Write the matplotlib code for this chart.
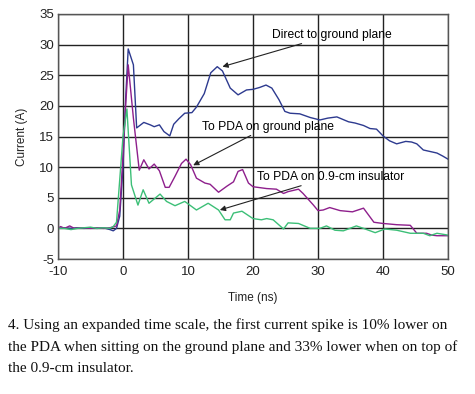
import matplotlib
matplotlib.use("Agg")
import matplotlib.pyplot as plt

# ---- data ----
direct_t = [-10, -9, -8, -7, -6, -5, -4, -3, -2, -1.5, -1, -0.5, 0, 0.4, 0.8, 1.6, 2.1, 3.2, 4.2, 4.8,
            5.6, 6.3, 7.2, 7.8, 8.6, 9.5, 10.6, 11.3, 12.5, 13.5, 14.5, 15.3, 16.5, 17.7, 19.0, 20.0,
            21.0, 22.0, 22.9, 24.0, 24.9, 25.7, 27.2, 28.8, 30.3, 31.5, 32.9, 34.7, 35.7, 37, 38, 39,
            40, 41.0, 42.1, 43.5, 44.4, 45.2, 46.2, 48.3, 49.2, 50]
direct_i = [0.0, 0.1, 0.0, 0.1, 0.0, 0.1, 0.0, 0.1, -0.2, -0.4, 0.0, 2, 10, 21, 29.3, 26.7, 16.4, 17.3, 16.9, 16.6,
            16.9, 15.8, 15.1, 17.0, 17.9, 18.8, 18.9, 19.8, 22.0, 25.4, 26.4, 25.7, 22.9, 21.8, 22.6, 22.7,
            23.0, 23.4, 22.9, 21.0, 19.1, 18.8, 18.7, 18.1, 17.7, 18.0, 18.2, 17.4, 17.2, 16.8, 16.3, 16.2,
            15.1, 14.3, 13.8, 14.2, 14.1, 13.8, 12.8, 12.3, 11.8, 11.3]

gp_t = [-10, -9.6, -9, -8.2, -7.5, -6, -5, -4, -3, -2, -1, -0.5, 0, 0.4, 0.8, 1.6, 2.5, 3.2, 4.0, 4.8,
        5.6, 6.5, 7.1, 8.0, 9.0, 9.7, 10.4, 11.3, 12.6, 13.4, 14.7, 16.0, 17.0, 17.7, 18.4, 19.3, 20,
        22.1, 23.6, 24.7, 25.4, 27, 27.7, 29.3, 30, 30.8, 31.8, 33.4, 35.3, 37, 38.6, 40, 41.1, 42.1,
        44.2, 45.2, 46.7, 47.5, 48.3, 50]
gp_i = [0.0, 0.3, 0.0, 0.4, 0.0, 0.1, 0.0, 0.1, 0.0, 0.1, 0.4, 3, 12, 20, 26.7, 18, 9.5, 11.2, 9.7, 10.5,
        9.4, 6.7, 6.7, 8.5, 10.6, 11.3, 10.4, 8.2, 7.4, 7.2, 5.9, 6.9, 7.6, 9.3, 9.6, 7.4, 6.8,
        6.5, 6.4, 5.7, 6.0, 6.4, 5.7, 3.8, 2.9, 3.0, 3.4, 2.9, 2.7, 3.3, 1.0, 0.8, 0.7, 0.6,
        0.5, -0.8, -0.8, -1.1, -1.2, -1.2]

ins_t = [-10, -9, -8, -7, -6, -5, -4, -3, -2, -1.5, -1, -0.5, 0, 0.6, 1.3, 2.3, 3.1, 4.0, 5.7, 6.7,
         8, 9.5, 11.3, 13.1, 14.7, 15.7, 16.5, 17.0, 18.3, 20, 21.3, 22.1, 23.1, 24.7, 25.4, 27, 28.8,
         30.3, 31.3, 32.6, 33.9, 35.9, 37, 38.8, 40.3, 42.1, 44.2, 46.2, 47.2, 48.3, 50]
ins_i = [0.0, 0.0, -0.2, 0.0, 0.1, 0.2, 0.0, 0.1, 0.0, 0.3, 1.0, 8, 15, 19.5, 7.1, 3.8, 6.3, 4.1, 5.6, 4.4,
         3.7, 4.4, 3.0, 4.1, 3.0, 1.4, 1.4, 2.5, 2.8, 1.6, 1.4, 1.6, 1.4, -0.1, 0.9, 0.8, 0.0,
         0.0, 0.4, -0.3, -0.4, 0.4, 0.0, -0.7, -0.1, -0.3, -0.8, -0.8, -1.2, -0.8, -1.1]

x_ticks = [-10, 0, 10, 20, 30, 40, 50]
y_ticks = [-5, 0, 5, 10, 15, 20, 25, 30, 35]

caption_lines = [
    "4. Using an expanded time scale, the first current spike is 10% lower on",
    "the PDA when sitting on the ground plane and 33% lower when on top of",
    "the 0.9-cm insulator.",
]

plt.rcParams['font.family'] = ['Liberation Sans', 'DejaVu Sans']

fig = plt.figure(figsize=(4.75, 3.94), dpi=100)
ax = fig.add_axes([58/475, 1-259/394, (448-58)/475, (259-14)/394])

ax.set_xlim(-10, 50)
ax.set_ylim(-5, 35)
ax.set_xticks(x_ticks)
ax.set_yticks(y_ticks)
ax.set_xticklabels([str(v) for v in x_ticks], fontsize=9.5, color='#222')
ax.set_yticklabels([str(v) for v in y_ticks], fontsize=9.5, color='#222')
ax.tick_params(axis='y', length=0, pad=3)
ax.tick_params(axis='x', length=0, pad=5)
ax.grid(True, color='#222222', lw=1.0)
ax.set_axisbelow(True)
for s in ax.spines.values():
    s.set_color('#555555')
    s.set_linewidth(1.0)

ax.plot(direct_t, direct_i, color='#2d3a8f', lw=1.0)
ax.plot(gp_t, gp_i, color='#8e1f8c', lw=1.0)
ax.plot(ins_t, ins_i, color='#3cbf77', lw=1.0)

ax.set_xlabel("Time (ns)", fontsize=8.5, color='#222', labelpad=10)
ax.set_ylabel("Current (A)", fontsize=8.5, color='#222', labelpad=8)

ap = dict(arrowstyle='-|>', color='#222', lw=0.8, mutation_scale=8, shrinkA=0, shrinkB=0)
ax.annotate("Direct to ground plane", xy=(15.3, 26.4), xytext=(22.9, 31.6),
            fontsize=8.7, va='center', ha='left', arrowprops=ap)
ax.annotate("To PDA on ground plane", xy=(10.8, 10.3), xytext=(12.1, 16.6),
            fontsize=8.7, va='center', ha='left', arrowprops=ap)
ax.annotate("To PDA on 0.9-cm insulator", xy=(14.9, 3.0), xytext=(20.6, 8.4),
            fontsize=8.7, va='center', ha='left', arrowprops=ap)

# caption: fit first line to the reference width (~439 px)
renderer = fig.canvas.get_renderer()
base = 10.0
probe = fig.text(0, 0, caption_lines[0], fontsize=base, family='Liberation Serif')
w = probe.get_window_extent(renderer).width
probe.remove()
cap_size = base * 439.0 / w

for k, line in enumerate(caption_lines):
    fig.text(8/475, 1-(325 + 21.7*k)/394, line, fontsize=cap_size, family='Liberation Serif',
             va='center', ha='left', color='#111')

fig.savefig("out.png", dpi=100)
